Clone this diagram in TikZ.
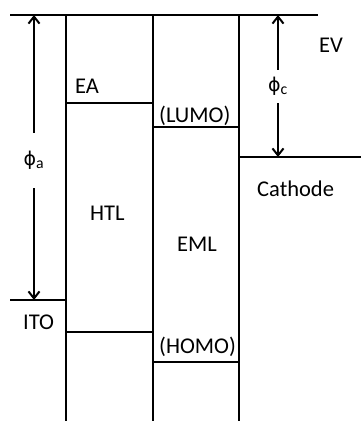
\documentclass[tikz,border=0pt]{standalone}
\usepackage{fontspec}
\setmainfont{Carlito}
\newfontfamily\phifont{DejaVu Sans}
\usetikzlibrary{arrows.meta}
\begin{document}
\begin{tikzpicture}[x=1pt,y=-1pt,
  lvl/.style={line width=2pt},
  lbl/.style={anchor=base west, inner sep=0pt, font=\fontsize{22.5}{27}\selectfont},
  philbl/.style={inner sep=0pt, font=\fontsize{22.5}{27}\selectfont},
  dimarrow/.style={line width=2pt, -{Straight Barb[length=7pt,width=11pt]}}]
\useasboundingbox (0,0) rectangle (361,421);
% vacuum level and layer boundaries
\draw[lvl] (10,15) -- (318,15);
\draw[lvl] (65.5,15) -- (65.5,421);
\draw[lvl] (152.5,15) -- (152.5,421);
\draw[lvl] (239.3,15) -- (239.3,421);
% energy levels
\draw[lvl] (10,300) -- (65.5,300);
\draw[lvl] (65.5,103) -- (152.5,103);
\draw[lvl] (65.5,332) -- (152.5,332);
\draw[lvl] (152.5,126.5) -- (239.3,126.5);
\draw[lvl] (152.5,362) -- (239.3,362);
\draw[lvl] (239.3,157) -- (361,157);
% labels
\node[lbl] (ea) at (75,93) {EA};
\node[lbl] (lumo) at (159,122) {(LUMO)};
\node[lbl] (homo) at (159,353) {(HOMO)};
\node[lbl] (ev) at (319,52) {EV};
\node[lbl] (cat) at (257,196) {Cathode};
\node[lbl] (htl) at (90,220) {HTL};
\node[lbl] (eml) at (177,251) {EML};
\node[lbl] (ito) at (23,329) {ITO};
% work functions
\coordinate (atop) at (34,15);
\coordinate (abot) at (34,300);
\coordinate (ctop) at (278,15);
\coordinate (cbot) at (278,157);
\node[philbl, minimum height=55pt] (phia) at (34,160.5) {{\phifont\fontsize{19}{24}\selectfont ϕ}\textsubscript{a}};
\node[philbl, minimum height=33pt] (phic) at (278,86.5) {{\phifont\fontsize{19}{24}\selectfont ϕ}\textsubscript{c}};
\draw[dimarrow] (phia) -- (atop);
\draw[dimarrow] (phia) -- (abot);
\draw[dimarrow] (phic) -- (ctop);
\draw[dimarrow] (phic) -- (cbot);
\end{tikzpicture}
\end{document}
